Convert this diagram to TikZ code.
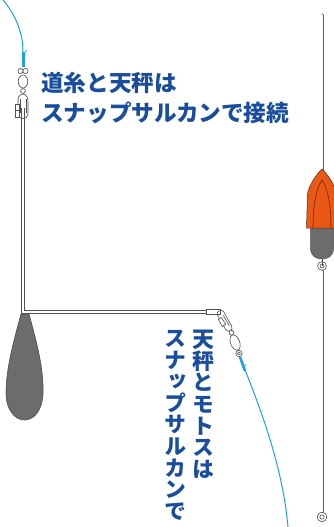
\documentclass[tikz,border=0pt]{standalone}
\usepackage{fontspec}
\usepackage{xcolor}
\usepackage{tikz}

\newfontfamily\jp{Noto Sans CJK JP}
\newfontfamily\jpv[RawFeature=+vert]{Noto Sans CJK JP}

\definecolor{teksbiru}{RGB}{26,78,156}
\definecolor{senar}{RGB}{30,160,232}
\definecolor{kawat}{RGB}{85,80,80}
\definecolor{timah}{RGB}{108,108,108}
\definecolor{oranye}{RGB}{234,88,22}

\tikzset{
	wire/.style={draw=kawat, line width=.85pt, double=white, double distance=2.2pt},
	thinwire/.style={draw=kawat!90, line width=.75pt, double=white, double distance=1.5pt, line cap=round},
	fishline/.style={draw=senar, line width=1pt},
	knot/.style={draw=senar, line width=3pt},
	metal/.style={draw=kawat, line width=.65pt, fill=white},
	label/.style={text=teksbiru, font=\jp\bfseries\fontsize{22.6}{29.5}\selectfont, inner sep=0pt, anchor=base west},
	vlabel/.style={text=teksbiru, font=\jpv\bfseries\fontsize{22}{21.6}\selectfont, inner sep=0pt, align=center, anchor=north},
}

\begin{document}
\begin{tikzpicture}[x=1pt, y=-1pt]
				\useasboundingbox (0,0) rectangle (334,527);

				% titik-titik acuan
				\coordinate (linetop) at (3,0);        % ujung senar atas
				\coordinate (knot1) at (23,52);        % simpul senar atas
				\coordinate (armtop) at (23,108);      % ujung atas tenbin
				\coordinate (corner) at (23,312);      % siku tenbin
				\coordinate (armend) at (212,312);     % ujung lengan tenbin
				\coordinate (knot2) at (240,357);      % simpul senar bawah
				\coordinate (linebot) at (288,527);    % ujung senar bawah
				\coordinate (floattop) at (322,15);    % ujung atas pelampung
				\coordinate (floatring) at (322,266);  % cincin pelampung
				\coordinate (floatend) at (322,517);   % cincin bawah

				% senar atas
				\draw [fishline] (linetop) .. controls (15,14) and (23,32) .. (knot1);
				\draw [knot] (knot1) -- (23,67);
				\draw [fishline, line width=.7pt] (23,55) -- (27,50);

				% kili-kili atas
				\draw [metal] (20.5,71) circle (2.6);
				\draw [metal] (25.5,71) circle (2.6);
				\draw [metal] (23,81.5) ellipse [x radius=4.8, y radius=6.5];
				\draw [metal] (23,91) circle (2.4);

				% tenbin
				\draw [wire] (armtop) -- (corner) -- (armend);

				% kait atas
				\draw [metal, fill=none] (23,94) .. controls (18,95) and (18,98) .. (18,102) -- (18,114)
					.. controls (18,120) and (28,120) .. (28,114) -- (28,102) .. controls (28,98) and (27,95) .. (23,94);
				\draw [metal, fill=none] (20,99) -- (20,113) (26,99) -- (26,113);
				\draw [metal] (15,104) rectangle (19.5,117);
				\draw [metal, fill=none] (16,110) -- (18.5,110);

				% pemberat
				\draw [fill=timah, draw=black!70, line width=.6pt] (21,314) -- (29,314)
					.. controls (36,340) and (44,368) .. (43,394)
					.. controls (42,412) and (33,420) .. (24.5,420)
					.. controls (15,420) and (6,410) .. (6,393)
					.. controls (6,368) and (14,340) .. (21,314) -- cycle;

				% kait bawah
				\draw [metal] (206,309.8) rectangle (220,314.2);
				\begin{scope}[shift={(219,311)}, rotate=-60]
					\draw [metal, fill=none] (0,0) .. controls (0,-4) and (3,-4) .. (6,-3.5) -- (19,-3.5)
						.. controls (24,-3.5) and (24,3.5) .. (19,3.5) -- (6,3.5) .. controls (3,3.5) and (0,4) .. (0,0);
					\draw [metal, fill=none] (6,-1.5) -- (18,-1.5);
					\draw [metal] (7,1) rectangle (15,4.8);
					\draw [metal] (25,0) circle (2.4);
				\end{scope}
				\draw [metal, rotate around={-70:(235.1,342.5)}] (235.1,342.5) ellipse [x radius=8, y radius=4.6];
				\draw [metal] (239,353.5) circle (3.2);
				\draw [metal] (239,353.5) circle (1.5);

				% senar bawah
				\draw [knot, line width=2.6pt] (knot2) -- (245,371);
				\draw [fishline] (knot2) .. controls (256,398) and (282,460) .. (linebot);
				\draw [fishline, line width=.7pt] (243,368) -- (246,364);

				% pelampung
				\draw [thinwire] (floattop) -- (322,172);
				\draw [fill=timah, draw=black!70, line width=.5pt] (310.5,224) -- (310.5,248)
					.. controls (310.5,256) and (316,259) .. (322,259)
					.. controls (328,259) and (333.5,256) .. (333.5,248) -- (333.5,224) -- cycle;
				\draw [fill=oranye, draw=black!60!oranye, line width=.5pt] (322,169)
					.. controls (316,175) and (309,185) .. (307.5,194) -- (306.5,228) -- (337.5,228)
					-- (336.5,194) .. controls (335,185) and (328,175) .. (322,169) -- cycle;
				\draw [draw=black!55!oranye, line width=.6pt] (313,228) .. controls (313,202) and (317,187) .. (322,180)
					.. controls (327,187) and (331,202) .. (331,228);
				\draw [thinwire] (322,271) -- (322,512);
				\draw [metal] (floatring) circle (4.4);
				\draw [metal] (floatring) circle (2);
				\draw [metal] (322,259) -- (322,266);
				\draw [metal] (floatend) circle (4.8);
				\draw [metal] (floatend) circle (2.2);

				% tulisan
				\node (label1a) [label] at (41,91.5) {道糸と天秤は};
				\node (label1b) [label] at (41,121) {スナップサルカンで接続};
				\node (label2a) [vlabel] at (203,330) {天\\秤\\と\\モ\\ト\\ス\\は};
				\node (label2b) [vlabel] at (175,330) {ス\\ナ\\ッ\\プ\\サ\\ル\\カ\\ン\\で};
			\end{tikzpicture}
\end{document}
